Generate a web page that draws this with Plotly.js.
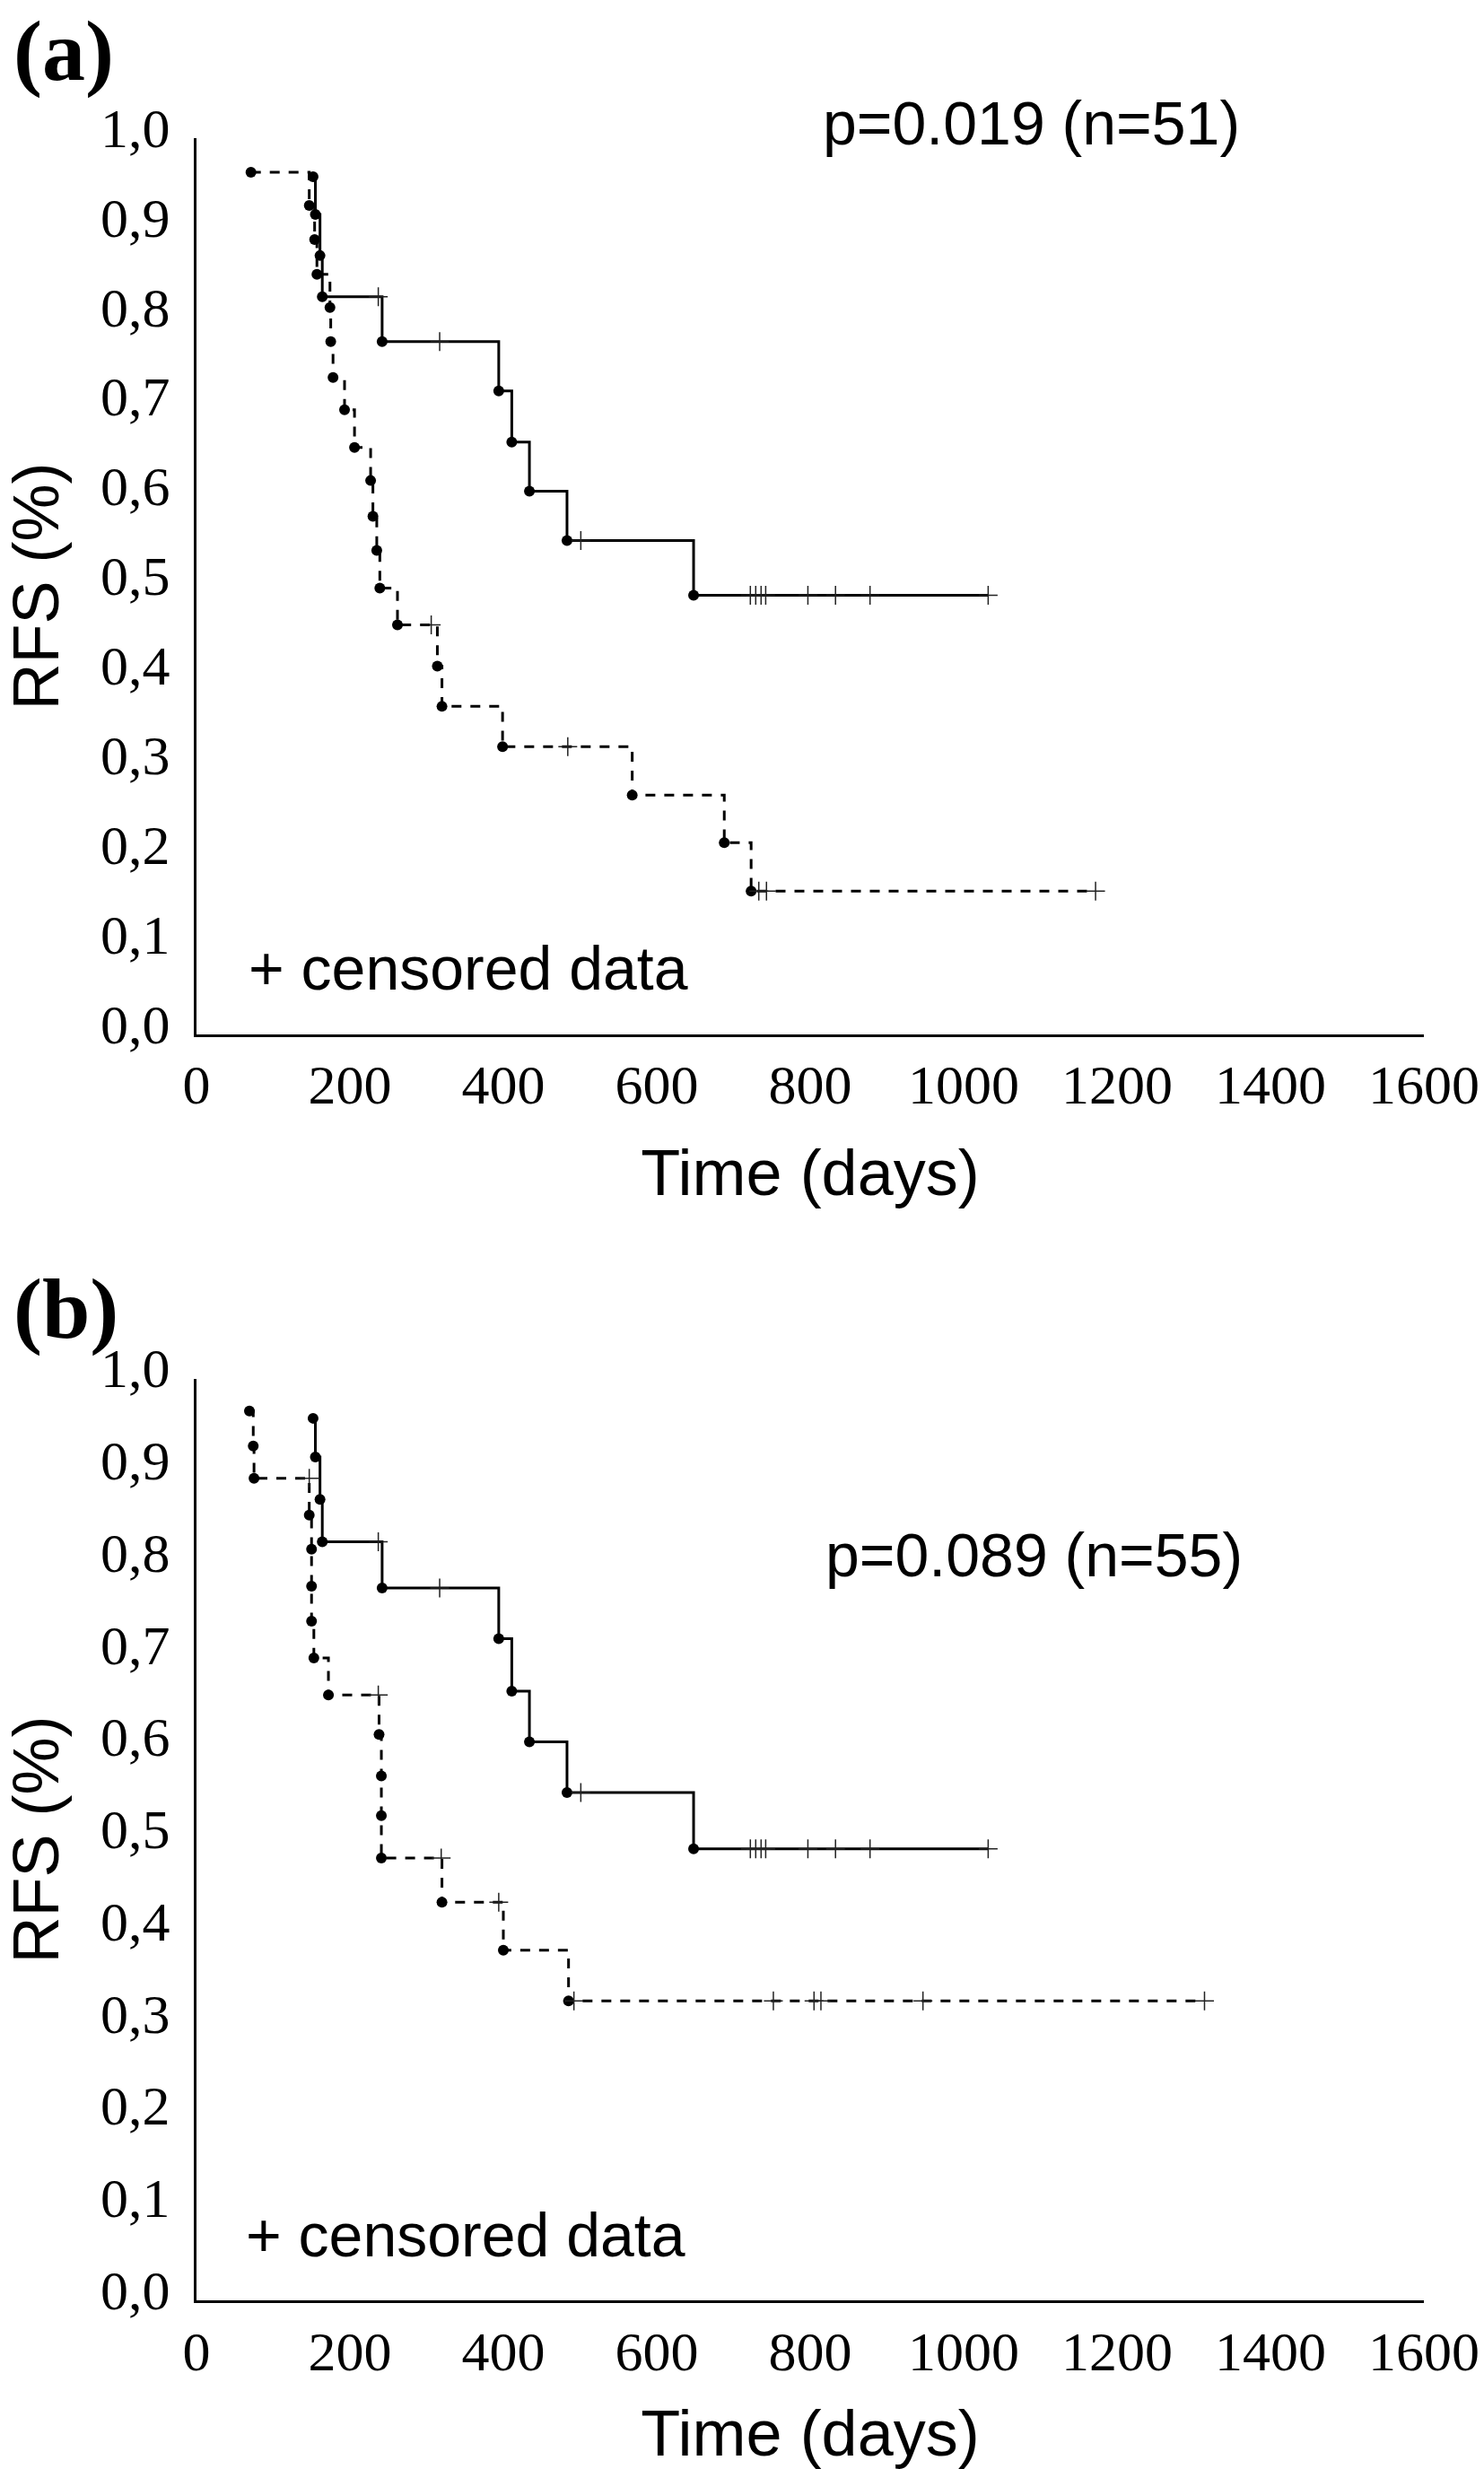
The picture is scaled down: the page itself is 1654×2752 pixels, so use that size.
<!DOCTYPE html>
<html>
<head>
<meta charset="utf-8">
<script src="https://cdn.plot.ly/plotly-3.0.1.min.js"></script>
<style>
  html, body { margin: 0; padding: 0; background: #fff; }
  #plot { width: 1654px; height: 2752px; }
</style>
</head>
<body>
<div id="plot"></div>
<script>
// tick labels (decimal comma as in the original)
var xTicks = [0, 200, 400, 600, 800, 1000, 1200, 1400, 1600];
var yTicks = [0, 0.1, 0.2, 0.3, 0.4, 0.5, 0.6, 0.7, 0.8, 0.9, 1.0];
var yTickText = ['0,0', '0,1', '0,2', '0,3', '0,4', '0,5', '0,6', '0,7', '0,8', '0,9', '1,0'];

// solid group (same curve in both panels)
var solidTime = [152, 155, 161, 164, 242, 394, 411, 434, 483, 648];
var solidSurv = [0.957, 0.915, 0.869, 0.823, 0.773, 0.718, 0.661, 0.606, 0.551, 0.490];
var solidCensTime = [237, 317, 501, 722, 729, 736, 742, 797, 833, 878, 1032];
var solidCensSurv = [0.823, 0.773, 0.551, 0.490, 0.490, 0.490, 0.490, 0.490, 0.490, 0.490, 0.490];

// panel (a) dashed group
var dashATime = [71, 147, 154, 157, 174, 175, 178, 193, 206, 227, 230, 235, 239, 262, 314, 320, 399, 568, 688, 723];
var dashASurv = [0.962, 0.925, 0.887, 0.848, 0.811, 0.773, 0.733, 0.697, 0.655, 0.618, 0.578, 0.540, 0.498, 0.457, 0.411, 0.366, 0.321, 0.267, 0.214, 0.160];
var dashACensTime = [306, 484, 733, 743, 1172];
var dashACensSurv = [0.457, 0.321, 0.160, 0.160, 0.160];

// panel (b) dashed group
var dashBTime = [69, 74, 75, 147, 150, 150, 150, 153, 172, 238, 241, 241, 241, 320, 400, 485];
var dashBSurv = [0.965, 0.927, 0.892, 0.852, 0.815, 0.775, 0.737, 0.697, 0.657, 0.614, 0.569, 0.526, 0.480, 0.432, 0.380, 0.325];
var dashBCensTime = [147, 237, 319, 394, 492, 752, 805, 814, 947, 1314];
var dashBCensSurv = [0.892, 0.657, 0.480, 0.432, 0.325, 0.325, 0.325, 0.325, 0.325, 0.325];

var pText = ['p=0.019 (n=51)', 'p=0.089 (n=55)'];

// one KM curve: step line up to the last censored case, event dots, censor crosses
function kmTraces(t, s, ct, cs, dash, xa, ya) {
  var lastT = ct[ct.length - 1];
  var lineX = t.concat([lastT]);
  var lineY = s.concat([s[s.length - 1]]);
  return [
    { x: lineX, y: lineY, xaxis: xa, yaxis: ya, type: 'scatter', mode: 'lines',
      line: { shape: 'hv', color: '#000', width: 3, dash: dash }, hoverinfo: 'skip' },
    { x: t, y: s, xaxis: xa, yaxis: ya, type: 'scatter', mode: 'markers',
      marker: { color: '#000', size: 12 }, cliponaxis: false },
    { x: ct, y: cs, xaxis: xa, yaxis: ya, type: 'scatter', mode: 'markers',
      marker: { symbol: 'cross-thin', size: 15, line: { color: '#222', width: 1.5 } }, cliponaxis: false }
  ];
}

var dashed = '11px,10px';
var data = [].concat(
  kmTraces(solidTime, solidSurv, solidCensTime, solidCensSurv, 'solid', 'x', 'y'),
  kmTraces(dashATime, dashASurv, dashACensTime, dashACensSurv, dashed, 'x', 'y'),
  kmTraces(solidTime, solidSurv, solidCensTime, solidCensSurv, 'solid', 'x2', 'y2'),
  kmTraces(dashBTime, dashBSurv, dashBCensTime, dashBCensSurv, dashed, 'x2', 'y2')
);

var serif = 'Liberation Serif, Times New Roman, serif';
var sans = 'Liberation Sans, Arial, sans-serif';

function xAxis(anchor) {
  return {
    domain: [0.1324, 0.9595], range: [0, 1600], anchor: anchor,
    tickmode: 'array', tickvals: xTicks, ticks: '', ticklabelstandoff: 0,
    showline: true, linewidth: 3, linecolor: '#000', showgrid: false, zeroline: false,
    tickfont: { family: serif, size: 62, color: '#000' },
    title: { text: 'Time (days)', font: { family: sans, size: 72, color: '#000' }, standoff: 40 }
  };
}
function yAxis(anchor, dom) {
  return {
    domain: dom, range: [0, 1], anchor: anchor,
    tickmode: 'array', tickvals: yTicks, ticktext: yTickText, ticks: '',
    ticklabelstandoff: 14, ticklabelshift: -12,
    showline: true, linewidth: 3, linecolor: '#000', showgrid: false, zeroline: false,
    tickfont: { family: serif, size: 62, color: '#000' },
    title: { text: 'RFS (%)', font: { family: sans, size: 72, color: '#000' }, standoff: 30 }
  };
}

var layout = {
  width: 1654, height: 2752,
  margin: { l: 0, r: 0, t: 0, b: 0 },
  paper_bgcolor: '#fff', plot_bgcolor: '#fff',
  showlegend: false,
  xaxis: xAxis('y'),
  yaxis: yAxis('x', [0.58103, 0.94404]),
  xaxis2: xAxis('y2'),
  yaxis2: yAxis('x2', [0.06821, 0.44161]),
  annotations: [
    { text: '<b>(a)</b>', xref: 'paper', yref: 'paper', x: 0.0079, y: 0.9793, xanchor: 'left', yanchor: 'middle',
      showarrow: false, font: { family: serif, size: 96, color: '#000' } },
    { text: '<b>(b)</b>', xref: 'paper', yref: 'paper', x: 0.0079, y: 0.4702, xanchor: 'left', yanchor: 'middle',
      showarrow: false, font: { family: serif, size: 96, color: '#000' } },
    { text: pText[0], xref: 'paper', yref: 'paper', x: 0.6947, y: 0.9502, xanchor: 'center', yanchor: 'middle',
      showarrow: false, font: { family: sans, size: 68, color: '#000' } },
    { text: pText[1], xref: 'paper', yref: 'paper', x: 0.6970, y: 0.3703, xanchor: 'center', yanchor: 'middle',
      showarrow: false, font: { family: sans, size: 68, color: '#000' } },
    { text: '+ censored data', xref: 'paper', yref: 'paper', x: 0.1663, y: 0.6079, xanchor: 'left', yanchor: 'middle',
      showarrow: false, font: { family: sans, size: 68, color: '#000' } },
    { text: '+ censored data', xref: 'paper', yref: 'paper', x: 0.1644, y: 0.0948, xanchor: 'left', yanchor: 'middle',
      showarrow: false, font: { family: sans, size: 68, color: '#000' } }
  ]
};

Plotly.newPlot('plot', data, layout, { staticPlot: true });
</script>
</body>
</html>
